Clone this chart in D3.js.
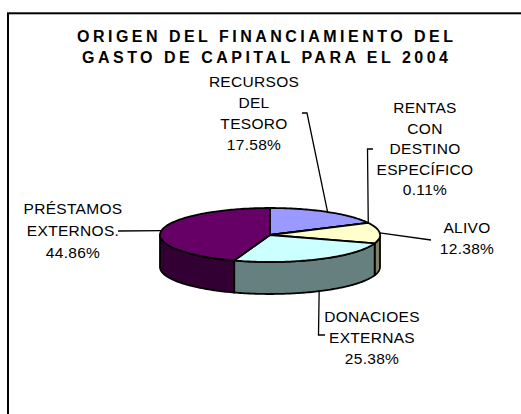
<!DOCTYPE html>
<html>
<head>
<meta charset="utf-8">
<script src="https://cdn.jsdelivr.net/npm/d3@7"></script>
<style>
  html, body { margin: 0; padding: 0; background: #fff; }
  svg { display: block; }
  text { font-family: "Liberation Sans", Arial, sans-serif; fill: #000; }
</style>
</head>
<body>
<div id="chart"></div>
<script>
// chart data
const titleLines = ['ORIGEN DEL FINANCIAMIENTO DEL', 'GASTO DE CAPITAL PARA EL 2004'];
const categories = [
  ['RECURSOS', 'DEL', 'TESORO'],
  ['RENTAS', 'CON', 'DESTINO', 'ESPECÍFICO'],
  ['ALIVO'],
  ['DONACIOES', 'EXTERNAS'],
  ['PRÉSTAMOS', 'EXTERNOS.']
];
const values = [17.58, 0.11, 12.38, 25.38, 44.86];
const topColors = ['#9999ff', '#ffffcc', '#ffffcc', '#ccffff', '#660066'];
const sideColors = ['#4d4d80', '#808066', '#808066', '#668080', '#330033'];

// label layout: text center, first baseline, line height, elbow points of the leader
const labelLayout = [
  { x: 254, y: 87, lh: 21, elbow: [[302, 113], [307, 113]] },
  { x: 425, y: 113, lh: 20.5, elbow: [[373, 149], [367.5, 149]] },
  { x: 467, y: 233, lh: 20.5, elbow: [[431, 240]] },
  { x: 372, y: 322, lh: 21, elbow: [[325, 335], [318.5, 335]] },
  { x: 73, y: 214, lh: 22, elbow: [[118, 231]] }
];

const width = 521, height = 414;
const cx = 270, cy = 235, rx = 110, ry = 27, depth = 32;

const svg = d3.select('#chart').append('svg')
  .attr('width', width)
  .attr('height', height);

// outer frame (runs past the right and bottom edges)
svg.append('rect')
  .attr('x', 8).attr('y', 13.3)
  .attr('width', 600).attr('height', 500)
  .attr('fill', 'none')
  .attr('stroke', '#000')
  .attr('stroke-width', 2);

// title
svg.selectAll('.title')
  .data(titleLines)
  .enter()
  .append('text')
  .attr('class', 'title')
  .attr('x', 265)
  .attr('y', (d, i) => 42 + i * 21)
  .attr('text-anchor', 'middle')
  .attr('font-size', '16px')
  .attr('font-weight', 'bold')
  .attr('textLength', (d, i) => i === 0 ? 376 : 366)
  .attr('lengthAdjust', 'spacing')
  .text(d => d);

const pie = d3.pie().sort(null).value(d => d);
const arcs = pie(values);

const pt = (a, dy = 0) => [cx + rx * Math.sin(a), cy - ry * Math.cos(a) + dy];
const line = d3.line();

const sample = (a0, a1) => {
  const n = Math.max(2, Math.ceil((a1 - a0) / 0.02));
  return d3.range(n + 1).map(i => a0 + (a1 - a0) * i / n);
};

// front side walls
const g = svg.append('g');
arcs.forEach((d, i) => {
  const a0 = Math.max(d.startAngle, Math.PI / 2);
  const a1 = Math.min(d.endAngle, Math.PI * 1.5);
  if (a1 <= a0) return;
  const angles = sample(a0, a1);
  const pts = angles.map(a => pt(a)).concat(angles.slice().reverse().map(a => pt(a, depth)));
  g.append('path')
    .attr('d', line(pts) + 'Z')
    .attr('fill', sideColors[i])
    .attr('stroke', '#000')
    .attr('stroke-width', 1.8)
    .attr('stroke-linejoin', 'round');
});

// top faces
arcs.forEach((d, i) => {
  const pts = [[cx, cy]].concat(sample(d.startAngle, d.endAngle).map(a => pt(a)));
  g.append('path')
    .attr('d', line(pts) + 'Z')
    .attr('fill', topColors[i])
    .attr('stroke', '#000')
    .attr('stroke-width', 1.8)
    .attr('stroke-linejoin', 'round');
});

// leader lines
arcs.forEach((d, i) => {
  const mid = (d.startAngle + d.endAngle) / 2;
  const front = mid > Math.PI / 2 && mid < Math.PI * 1.5;
  const anchor = pt(mid, front ? depth : 0);
  const pts = labelLayout[i].elbow.concat([anchor]);
  svg.append('path')
    .attr('d', line(pts))
    .attr('fill', 'none')
    .attr('stroke', '#000')
    .attr('stroke-width', 1.3);
});

// labels
categories.forEach((lines, i) => {
  const L = labelLayout[i];
  const all = lines.concat([values[i].toFixed(2) + '%']);
  const t = svg.append('text')
    .attr('text-anchor', 'middle')
    .attr('font-size', '15.5px')
    .attr('letter-spacing', '0.3px');
  all.forEach((s, j) => {
    t.append('tspan')
      .attr('x', L.x)
      .attr('y', L.y + j * L.lh)
      .text(s);
  });
});
</script>
</body>
</html>
